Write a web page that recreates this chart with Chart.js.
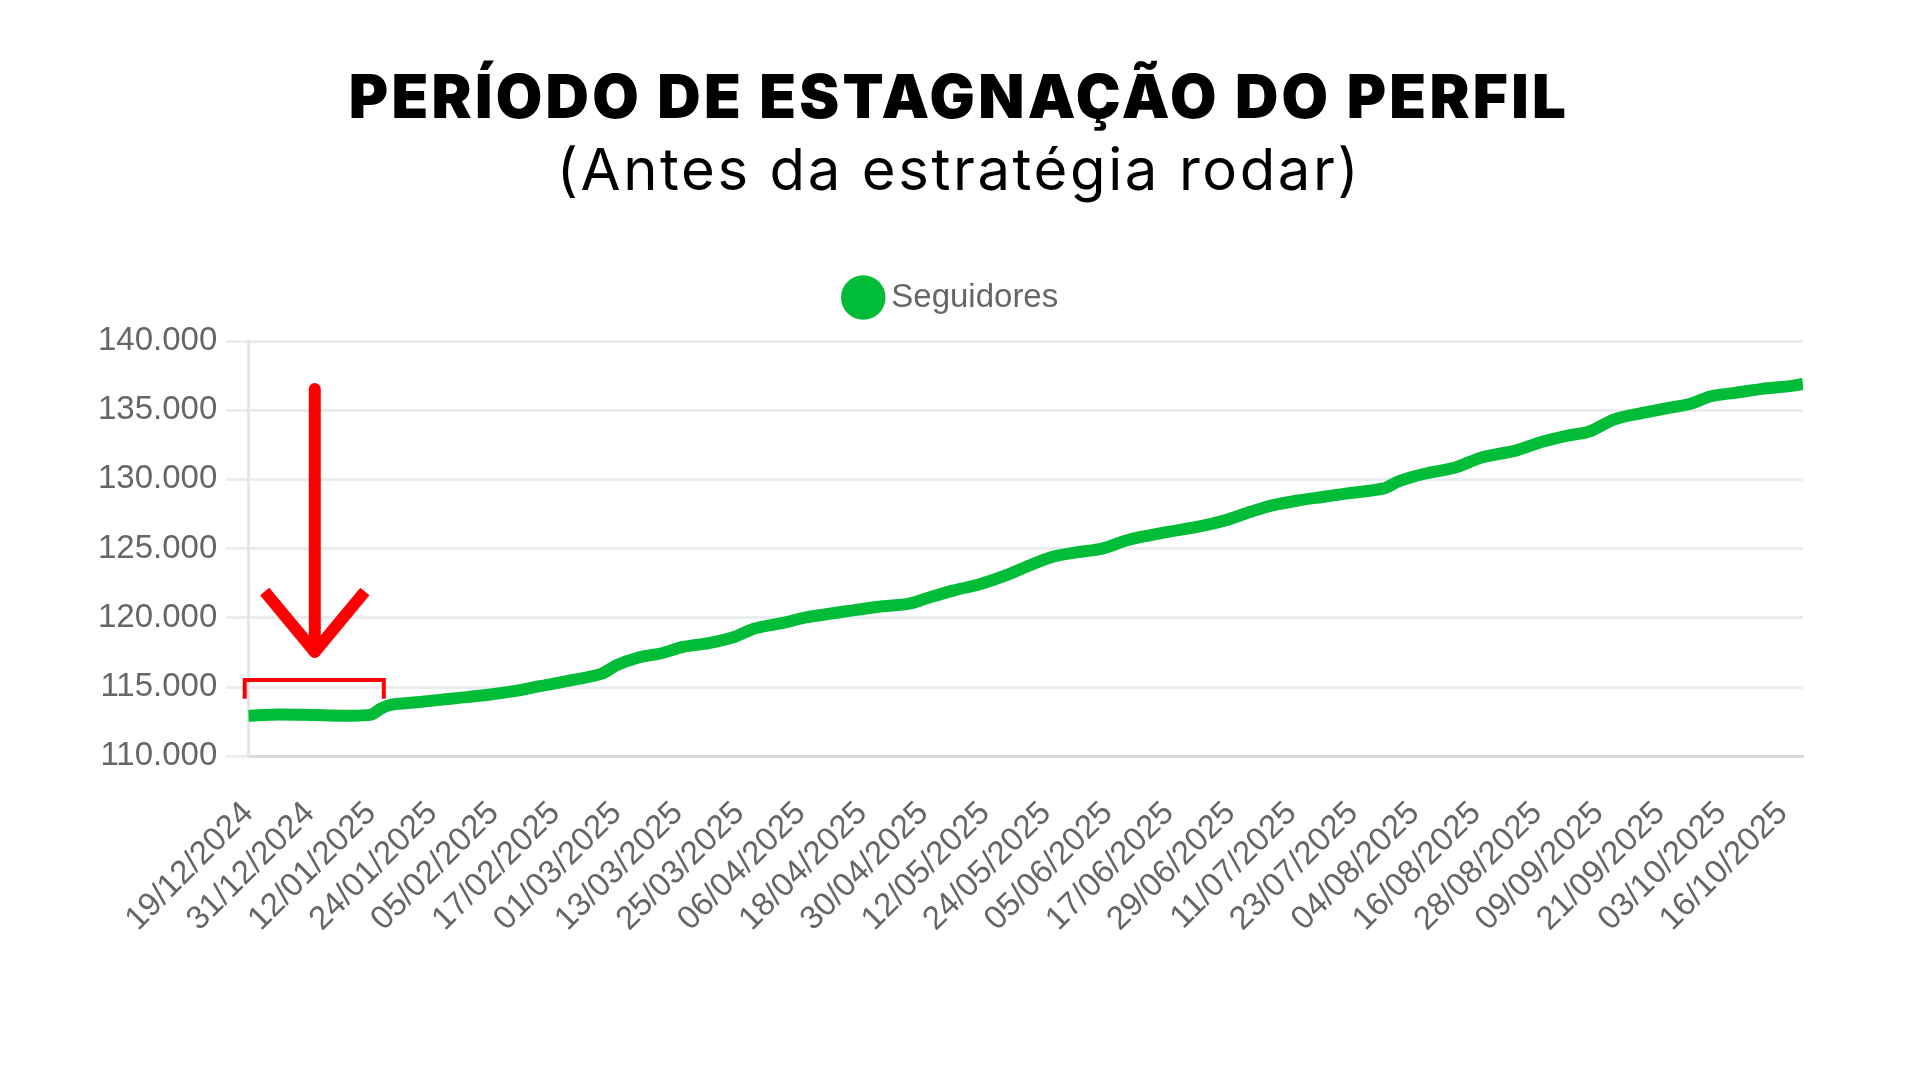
<!DOCTYPE html>
<html>
<head>
<meta charset="utf-8">
<script src="https://cdn.jsdelivr.net/npm/chart.js@4.4.1/dist/chart.umd.min.js"></script>
<style>
  html, body { margin: 0; padding: 0; background: #ffffff; }
  #wrap { position: relative; width: 1920px; height: 1080px; overflow: hidden; background: #fff; }
  #title { position: absolute; left: -11px; top: 66px; width: 1940px; text-align: center;
    font-family: Inter, "Noto Sans", sans-serif; font-weight: 900; font-size: 60px; color: #000; line-height: 1; letter-spacing: 3.3px; }
  #subtitle { position: absolute; left: -11px; top: 140px; width: 1940px; text-align: center;
    font-family: Inter, "Noto Sans", sans-serif; font-weight: 400; font-size: 58px; color: #000; line-height: 1; letter-spacing: 2.6px; }
  #chartBox { position: absolute; left: 0; top: 0; width: 1920px; height: 1080px; }
</style>
</head>
<body>
<div id="wrap">
  <div id="chartBox"><canvas id="c"></canvas></div>
  <div id="title">PERÍODO DE ESTAGNAÇÃO DO PERFIL</div>
  <div id="subtitle">(Antes da estratégia rodar)</div>
</div>
<script>
// ---- data (day index since 19/12/2024, followers) ----
const days = [0,6,13,18,24,26,28,33,40,47,52,57,62,69,72,76,81,85,90,95,99,105,109,117,124,129,133,138,143,148,152,157,162,167,172,179,186,191,196,200,205,210,215,222,225,230,236,241,248,253,258,262,267,272,277,282,286,291,296,301,304];
const followers = [112930,113020,112970,112930,113000,113460,113730,113900,114170,114440,114700,115060,115400,115950,116570,117100,117460,117900,118170,118610,119230,119670,120030,120470,120830,121000,121450,121980,122430,123050,123670,124380,124730,125000,125620,126150,126600,127040,127660,128110,128460,128730,128990,129350,129880,130410,130860,131570,132100,132720,133170,133430,134320,134760,135120,135470,136010,136270,136540,136720,136890];

// ---- x tick positions and labels ----
const tickDays = [0,12,24,36,48,60,72,84,96,108,120,132,144,156,168,180,192,204,216,228,240,252,264,276,288,300];
const tickLabels = ["19/12/2024","31/12/2024","12/01/2025","24/01/2025","05/02/2025","17/02/2025","01/03/2025","13/03/2025","25/03/2025","06/04/2025","18/04/2025","30/04/2025","12/05/2025","24/05/2025","05/06/2025","17/06/2025","29/06/2025","11/07/2025","23/07/2025","04/08/2025","16/08/2025","28/08/2025","09/09/2025","21/09/2025","03/10/2025","16/10/2025"];

// ---- annotation (in data units) ----
const bracketDays = [-0.7, 26.5];
const bracketValues = [115500, 114150];
const arrowDay = [13, 9.8];          // shaft x, wing half-width
const arrowValues = [136540, 117540, 121900]; // top, tip, wing ends

const green = '#00bc36';

const legendSpacer = {
  id: 'legendSpacer',
  afterInit(chart) {
    const lg = chart.legend;
    if (!lg) return;
    const origFit = lg.fit;
    lg.fit = function () { origFit.call(this); this.height += 17; };
  },
  afterLayout(chart) {
    const lg = chart.legend;
    if (lg) { lg.left += 9; lg.right += 9; }
  }
};

const annotate = {
  id: 'annotate',
  afterDatasetsDraw(chart) {
    const {ctx, scales: {x, y}} = chart;
    ctx.save();
    ctx.strokeStyle = '#ff0000';
    // bracket
    ctx.lineWidth = 4;
    ctx.lineCap = 'butt';
    ctx.lineJoin = 'miter';
    ctx.beginPath();
    ctx.moveTo(x.getPixelForValue(bracketDays[0]), y.getPixelForValue(bracketValues[1]));
    ctx.lineTo(x.getPixelForValue(bracketDays[0]), y.getPixelForValue(bracketValues[0]));
    ctx.lineTo(x.getPixelForValue(bracketDays[1]), y.getPixelForValue(bracketValues[0]));
    ctx.lineTo(x.getPixelForValue(bracketDays[1]), y.getPixelForValue(bracketValues[1]));
    ctx.stroke();
    // arrow
    ctx.lineWidth = 12;
    ctx.lineCap = 'round';
    ctx.lineJoin = 'round';
    const ax = x.getPixelForValue(arrowDay[0]);
    ctx.beginPath();
    ctx.moveTo(ax, y.getPixelForValue(arrowValues[0]));
    ctx.lineTo(ax, y.getPixelForValue(arrowValues[1]));
    ctx.stroke();
    ctx.lineCap = 'butt';
    ctx.beginPath();
    ctx.moveTo(x.getPixelForValue(arrowDay[0] - arrowDay[1]), y.getPixelForValue(arrowValues[2]));
    ctx.lineTo(ax, y.getPixelForValue(arrowValues[1]));
    ctx.lineTo(x.getPixelForValue(arrowDay[0] + arrowDay[1]), y.getPixelForValue(arrowValues[2]));
    ctx.stroke();
    ctx.restore();
  }
};

new Chart(document.getElementById('c'), {
  type: 'line',
  data: {
    datasets: [{
      label: 'Seguidores',
      data: days.map((d, i) => ({x: d, y: followers[i]})),
      borderColor: green,
      backgroundColor: green,
      borderWidth: 12,
      pointRadius: 0,
      tension: 0.3,
      fill: false
    }]
  },
  options: {
    responsive: true,
    maintainAspectRatio: false,
    animation: false,
    devicePixelRatio: 1,
    layout: { padding: { top: 248, left: 89, right: 117, bottom: 111 } },
    plugins: {
      legend: {
        display: true,
        position: 'top',
        labels: {
          usePointStyle: true,
          pointStyle: 'circle',
          boxWidth: 23,
          boxHeight: 23,
          color: '#666',
          padding: 33,
          font: { family: '"Liberation Sans", Arial, sans-serif', size: 33 }
        }
      },
      tooltip: { enabled: false }
    },
    scales: {
      x: {
        type: 'linear',
        min: 0,
        max: 304,
        afterBuildTicks(axis) { axis.ticks = tickDays.map(v => ({value: v})); },
        ticks: {
          autoSkip: false,
          minRotation: 45,
          maxRotation: 45,
          color: '#666',
          padding: 30,
          font: { family: '"Liberation Sans", Arial, sans-serif', size: 33 },
          callback: (v) => tickLabels[tickDays.indexOf(v)]
        },
        grid: { display: false },
        border: { display: true, color: '#d6dadc', width: 3 }
      },
      y: {
        min: 110000,
        max: 140000,
        ticks: {
          stepSize: 5000,
          color: '#666',
          padding: 9,
          font: { family: '"Liberation Sans", Arial, sans-serif', size: 33 },
          callback: (v) => v.toLocaleString('pt-BR')
        },
        grid: { color: '#e9edef', lineWidth: 3, tickLength: 22 },
        border: { display: true, color: '#e3e7e9', width: 3 }
      }
    }
  },
  plugins: [legendSpacer, annotate]
});
</script>
</body>
</html>
